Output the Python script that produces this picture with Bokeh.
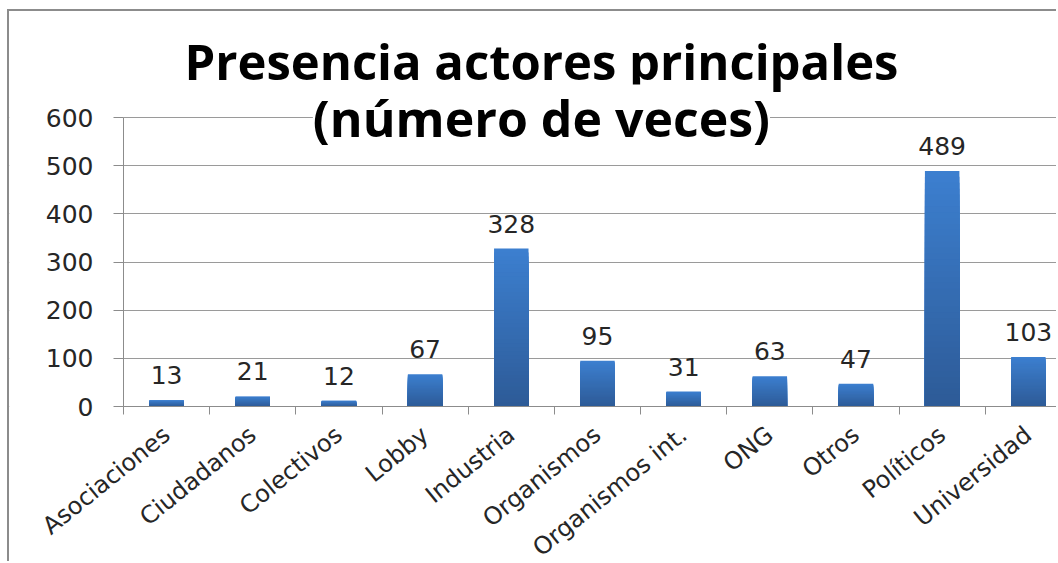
import math
from bokeh.plotting import figure
from bokeh.models import Range1d, FixedTicker, Label, ColumnDataSource, BoxAnnotation
from bokeh.core.properties import value
from bokeh.embed import file_html
from bokeh.resources import INLINE

categories = ["Asociaciones", "Ciudadanos", "Colectivos", "Lobby", "Industria",
              "Organismos", "Organismos int.", "ONG", "Otros", "Políticos", "Universidad"]
counts = [13, 21, 12, 67, 328, 95, 31, 63, 47, 489, 103]
y_ticks = [0, 100, 200, 300, 400, 500, 600]
title_lines = ["Presencia actores principales", "(número de veces)"]

W, H = 1049, 552
# the frame covers the whole canvas; both axes are pinned at 0 inside it
p = figure(width=W, height=H, output_backend="svg", toolbar_location=None,
           x_range=Range1d(-1.3228, 10.85), y_range=Range1d(-325.95, 820.07),
           min_border_left=0, min_border_right=0, min_border_top=0,
           min_border_bottom=0)
p.outline_line_color = None
p.background_fill_color = "white"
p.border_fill_color = "white"
p.styles = {"border-left": "2px solid #8c8c8c", "border-top": "2px solid #8c8c8c",
            "margin-left": "7px", "margin-top": "9px"}

centers = [i + 0.5 for i in range(len(categories))]

# keep grid lines to the right of the value axis
p.add_layout(BoxAnnotation(right=0, fill_color="white", fill_alpha=1,
                           line_color=None, level="glyph"))

# gradient bars: overlapping bands from each bar's own value (tallest first)
N = 40
top_c = (0x3C, 0x7F, 0xCF)
bot_c = (0x2D, 0x5A, 0x96)
bx, bt, bc = [], [], []
for k in range(N):
    f = (N - k) / N
    col = tuple(int(round(bot_c[j] + (top_c[j] - bot_c[j]) * f)) for j in range(3))
    for c, v in zip(centers, counts):
        bx.append(c)
        bt.append(v * f)
        bc.append("#%02x%02x%02x" % col)
p.vbar(x=bx, bottom=0, top=bt, width=0.4, fill_color=bc, line_color=None)

src = ColumnDataSource(dict(x=centers, y=counts, t=[str(v) for v in counts]))
p.text(x="x", y="y", text="t", source=src, y_offset=-25, text_align="center",
       text_baseline="alphabetic", text_font=value("DejaVu Sans"),
       text_font_size="25px", text_color="#262626")

# category axis, pinned at value 0
p.xaxis.fixed_location = 0
p.xaxis.bounds = (0, 10.85)
p.xaxis.ticker = FixedTicker(ticks=centers, minor_ticks=list(range(len(categories) + 1)))
p.xaxis.major_label_overrides = {c: n for c, n in zip(centers, categories)}
p.xaxis.major_label_orientation = math.radians(39)
p.xaxis.major_tick_out = 0
p.xaxis.major_tick_in = 0
p.xaxis.minor_tick_out = 8
p.xaxis.minor_tick_in = 0
p.xaxis.minor_tick_line_color = "#8c8c8c"
p.xaxis.axis_line_color = "#8c8c8c"
p.xaxis.major_label_text_font = "DejaVu Sans"
p.xaxis.major_label_text_font_size = "24px"
p.xaxis.major_label_text_color = "#262626"
p.xaxis.major_label_standoff = 17

# value axis, pinned at category position 0
p.yaxis.fixed_location = 0
p.yaxis.ticker = FixedTicker(ticks=y_ticks)
p.yaxis.bounds = (0, 600)
p.yaxis.minor_tick_line_color = None
p.yaxis.major_tick_out = 10
p.yaxis.major_tick_in = 0
p.yaxis.major_tick_line_color = "#8c8c8c"
p.yaxis.axis_line_color = "#8c8c8c"
p.yaxis.major_label_text_font = "DejaVu Sans"
p.yaxis.major_label_text_font_size = "25px"
p.yaxis.major_label_text_color = "#262626"
p.yaxis.major_label_standoff = 20

p.xgrid.grid_line_color = None
p.ygrid.ticker = FixedTicker(ticks=y_ticks)
p.ygrid.grid_line_color = "#9a9a9a"

# title
l1 = Label(x=4.85, y=718, text=title_lines[0],
           text_align="center", text_baseline="alphabetic", text_font="Open Sans",
           text_font_style="bold", text_font_size="49px", text_color="black")
l2 = Label(x=4.85, y=598, text=title_lines[1],
           text_align="center", text_baseline="alphabetic", text_font="Open Sans",
           text_font_style="bold", text_font_size="50px", text_color="black",
           background_fill_color="white")
p.add_layout(l1)
p.add_layout(l2)

open("out.html", "w").write(file_html(p, INLINE))
